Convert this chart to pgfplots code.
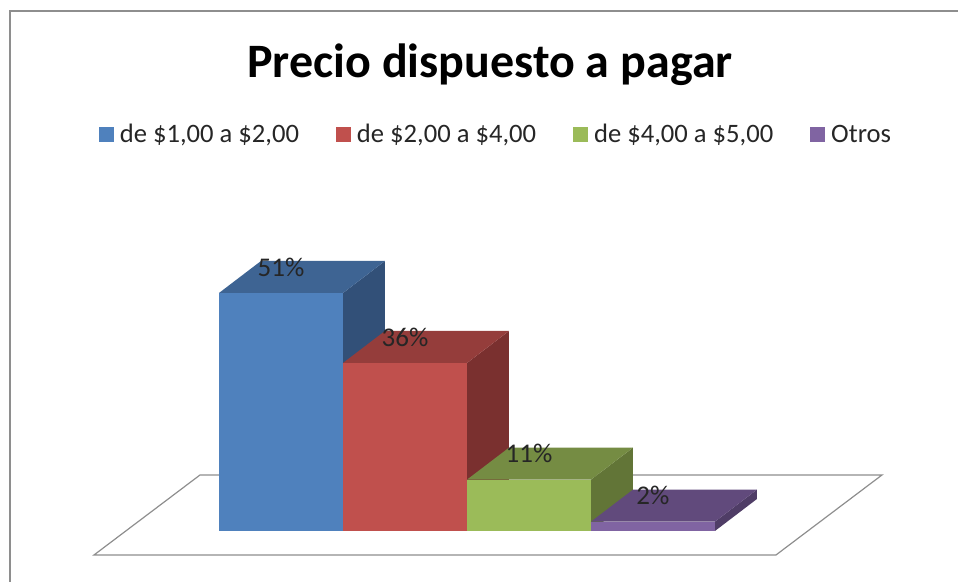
\documentclass[border=0pt]{standalone}
\usepackage{pgfplots}
\pgfplotsset{compat=1.18}
\usepackage{fontspec}
\setmainfont{Carlito}
\definecolor{azul}{HTML}{4F81BD}\definecolor{azulT}{HTML}{3E6493}\definecolor{azulS}{HTML}{325078}
\definecolor{rojo}{HTML}{C0504D}\definecolor{rojoT}{HTML}{953D3B}\definecolor{rojoS}{HTML}{7A302F}
\definecolor{verde}{HTML}{9BBB59}\definecolor{verdeT}{HTML}{758C43}\definecolor{verdeS}{HTML}{627537}
\definecolor{lila}{HTML}{8064A2}\definecolor{lilaT}{HTML}{614A7C}\definecolor{lilaS}{HTML}{4F3D66}
\definecolor{marco}{HTML}{8E8E8E}
% caras laterales y superiores de cada barra: {posicion}{valor}{color}
\newcommand{\barra}[3]{%
  \pgfmathsetmacro{\xa}{#1+0.5}\pgfmathsetmacro{\xb}{#1+0.5+0.3387}
  \pgfmathsetmacro{\xc}{#1-0.5}\pgfmathsetmacro{\xd}{#1-0.5+0.3387}
  \pgfmathsetmacro{\yb}{#2+6.857}
  \addplot[fill=#3S, draw=none, mark=none, forget plot]
    coordinates {(\xa,#2) (\xb,\yb) (\xb,6.857) (\xa,0)} --cycle;
  \addplot[fill=#3T, draw=none, mark=none, forget plot]
    coordinates {(\xc,#2) (\xa,#2) (\xb,\yb) (\xd,\yb)} --cycle;
  \addplot[ybar, bar width=124pt, bar shift=0pt, fill=#3, draw=none,
    nodes near coords={\pgfmathprintnumber{\pgfplotspointmeta}\%}]
    coordinates {(#1,#2)};
}
\begin{document}
\begin{tikzpicture}
\begin{axis}[
  scale only axis, width=958pt, height=582pt,
  xmin=-2.266, xmax=5.46, ymin=-10.93, ymax=113.79,
  hide axis, clip=false,
  title={Precio dispuesto a pagar},
  title style={at={(0.5115,0.878)}, anchor=center, font=\fontsize{48}{52}\selectfont\bfseries},
  /pgf/number format/assume math mode=true,
  every node near coord/.append style={anchor=center, yshift=26pt,
    font=\fontsize{27}{30}\selectfont, text=black!85},
  legend columns=4,
  legend style={at={(0.5177,0.769)}, anchor=center, draw=none, fill=none,
    inner sep=0pt, font=\fontsize{26.6}{30}\selectfont, text=black!85,
    /tikz/every odd column/.append style={column sep=4pt},
    /tikz/every even column/.append style={column sep=35pt}},
  legend image code/.code={\fill[#1] (0pt,-7.5pt) rectangle (15pt,7.5pt);},
]
  \useasboundingbox (rel axis cs:0,0) rectangle (rel axis cs:1,1);
  \draw[marco, line width=1.6pt] (axis cs:-2.185,-10.93) -- (axis cs:-2.185,111.43) -- (axis cs:5.46,111.43);
  \draw[marco, line width=1.2pt] (axis cs:-1.508,-5.143) -- (axis cs:-0.653,12)
    -- (axis cs:4.847,12) -- (axis cs:3.992,-5.143) -- cycle;
  \barra{0}{51}{azul}
  \barra{1}{36}{rojo}
  \barra{2}{11}{verde}
  \barra{3}{2}{lila}
  \legend{{de \$1,00 a \$2,00}, {de \$2,00 a \$4,00}, {de \$4,00 a \$5,00}, {Otros}}
\end{axis}
\end{tikzpicture}
\end{document}
